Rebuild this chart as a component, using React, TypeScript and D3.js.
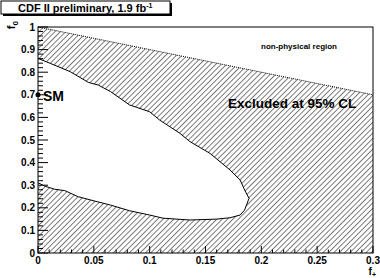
import React from 'react';
import * as d3 from 'd3';

// 95% CL contour of the allowed region (f+, f0)
const contourFPlus = [0, 0.011, 0.029, 0.045, 0.054, 0.065, 0.082, 0.088, 0.1, 0.109, 0.127, 0.136, 0.154, 0.172, 0.181, 0.185, 0.189, 0.185, 0.181, 0.172, 0.16, 0.136, 0.112, 0.1, 0.082, 0.065, 0.053, 0.036, 0.024, 0.015, 0.006, 0];
const contourF0 = [0.861, 0.839, 0.802, 0.755, 0.743, 0.714, 0.655, 0.645, 0.625, 0.588, 0.53, 0.493, 0.441, 0.367, 0.323, 0.279, 0.242, 0.19, 0.168, 0.156, 0.15, 0.146, 0.154, 0.168, 0.187, 0.212, 0.227, 0.249, 0.276, 0.282, 0.296, 0.311];

// physical boundary f0 + f+ = 1
const boundaryFPlus = [0, 0.3];
const boundaryF0 = [1, 0.7];

const smPoint = { fPlus: 0, f0: 0.7 };

const xTicks = [0, 0.05, 0.1, 0.15, 0.2, 0.25, 0.3];
const xTickLabels = ['0', '0.05', '0.1', '0.15', '0.2', '0.25', '0.3'];
const yTicks = [0, 0.1, 0.2, 0.3, 0.4, 0.5, 0.6, 0.7, 0.8, 0.9, 1];
const yTickLabels = ['0', '0.1', '0.2', '0.3', '0.4', '0.5', '0.6', '0.7', '0.8', '0.9', '1'];

const W = 380;
const H = 278;
const margin = { top: 27, right: 7, bottom: 25, left: 38 };
const font = '"Liberation Sans", Arial, Helvetica, sans-serif';

const App = () => {
  const x = d3.scaleLinear().domain([0, 0.3]).range([margin.left, W - margin.right]);
  const y = d3.scaleLinear().domain([0, 1]).range([H - margin.bottom, margin.top]);

  const line = d3.line<[number, number]>().x(d => x(d[0])).y(d => y(d[1]));

  const contourPts: [number, number][] = contourFPlus.map((v, i) => [v, contourF0[i]]);
  const boundaryPts: [number, number][] = boundaryFPlus.map((v, i) => [v, boundaryF0[i]]);
  const outerPts: [number, number][] = [...boundaryPts, [0.3, 0], [0, 0]];

  // hatched = below the physical boundary, outside the contour
  const hatchPath = line(outerPts) + 'Z' + line(contourPts) + 'Z';

  const xMinor = d3.range(0, 0.3001, 0.01);
  const yMinor = d3.range(0, 1.0001, 0.02);

  return (
    <svg width={W} height={H} style={{ position: 'absolute', left: 0, top: 0, background: '#fff' }} fontFamily={font}>
      <defs>
        <pattern id="hatch" patternUnits="userSpaceOnUse" width={3.8} height={10} patternTransform="rotate(45)">
          <line x1={0.5} y1={0} x2={0.5} y2={10} stroke="#555" strokeWidth={0.8} />
        </pattern>
      </defs>

      <path d={hatchPath} fill="url(#hatch)" fillRule="evenodd" stroke="none" />
      <path d={line(contourPts) || ''} fill="none" stroke="#000" strokeWidth={1} />
      <path d={line(boundaryPts) || ''} fill="none" stroke="#000" strokeWidth={1} strokeDasharray="1,1" />

      {/* frame */}
      <rect x={margin.left} y={margin.top} width={W - margin.left - margin.right} height={H - margin.top - margin.bottom}
        fill="none" stroke="#000" strokeWidth={1} />

      {/* x axis */}
      {xMinor.map((t, i) => (
        <line key={'xm' + i} x1={x(t)} x2={x(t)} y1={y(0)} y2={y(0) - (i % 5 === 0 ? 7 : 3.5)} stroke="#000" strokeWidth={1} />
      ))}
      {xTicks.map((t, i) => (
        <text key={'xl' + i} x={x(t)} y={264} fontSize={10} fontWeight="bold" textAnchor="middle">{xTickLabels[i]}</text>
      ))}

      {/* y axis */}
      {yMinor.map((t, i) => (
        <line key={'ym' + i} x1={x(0)} x2={x(0) + (i % 5 === 0 ? 10 : 5)} y1={y(t)} y2={y(t)} stroke="#000" strokeWidth={1} />
      ))}
      {yTicks.map((t, i) => (
        <text key={'yl' + i} x={35} y={y(t) + 3.5} fontSize={10} fontWeight="bold" textAnchor="end">{yTickLabels[i]}</text>
      ))}

      {/* axis titles */}
      <text x={376} y={275} fontSize={10} fontWeight="bold" textAnchor="end">
        f<tspan fontSize={7} dy={2}>+</tspan>
      </text>
      <text transform="translate(15,21) rotate(-90)" fontSize={11} fontWeight="bold" textAnchor="end">
        f<tspan fontSize={8} dy={3}>0</tspan>
      </text>

      {/* SM point */}
      <circle cx={x(smPoint.fPlus)} cy={y(smPoint.f0)} r={2.5} fill="#000" />
      <text x={43} y={101} fontSize={14} fontWeight="bold">SM</text>

      <text x={228} y={108} fontSize={13.5} fontWeight="bold">Excluded at 95% CL</text>
      <text x={261} y={49} fontSize={8} fontWeight="bold">non-physical region</text>

      {/* title box */}
      <rect x={3} y={3} width={169} height={13} fill="#000" />
      <rect x={1} y={1} width={169} height={13} fill="#fff" stroke="#000" strokeWidth={1} />
      <text x={18} y={11.5} fontSize={11} fontWeight="bold">
        CDF II preliminary, 1.9 fb<tspan fontSize={7} dy={-4}>-1</tspan>
      </text>
    </svg>
  );
};

export default App;
